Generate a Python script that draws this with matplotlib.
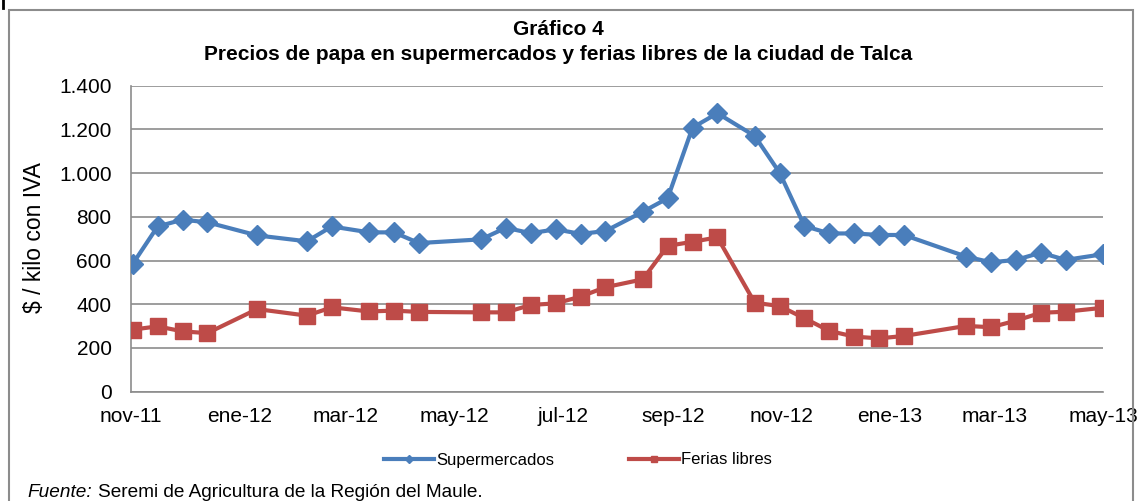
import numpy as np
import matplotlib
matplotlib.use("Agg")
import matplotlib.pyplot as plt
from matplotlib.patches import Rectangle
from matplotlib.lines import Line2D
import datetime as dt

plt.rcParams['font.family'] = ['Liberation Sans', 'DejaVu Sans']

# fechas de muestreo (quincenal)
fechas = ["2011-11-02", "2011-11-16", "2011-11-30", "2011-12-14", "2012-01-11",
          "2012-02-08", "2012-02-22", "2012-03-14", "2012-03-28", "2012-04-11",
          "2012-05-16", "2012-05-30", "2012-06-13", "2012-06-27", "2012-07-11",
          "2012-07-25", "2012-08-15", "2012-08-29", "2012-09-12", "2012-09-26",
          "2012-10-17", "2012-10-31", "2012-11-14", "2012-11-28", "2012-12-12",
          "2012-12-26", "2013-01-09", "2013-02-13", "2013-02-27", "2013-03-13",
          "2013-03-27", "2013-04-10", "2013-05-01"]

supermercados = [585, 756, 787, 775, 715, 688, 756, 729, 729, 680,
                 697, 750, 725, 743, 722, 735, 823, 885, 1208, 1274,
                 1170, 1002, 758, 724, 724, 717, 717, 618, 592, 603,
                 636, 603, 629]

ferias = [284, 299, 276, 268, 378, 348, 386, 367, 371, 365,
          363, 363, 397, 404, 435, 478, 514, 667, 686, 706,
          407, 392, 336, 278, 252, 244, 255, 301, 295, 325,
          361, 366, 384]

tick_fechas = ["2011-11-01", "2012-01-01", "2012-03-01", "2012-05-01", "2012-07-01",
               "2012-09-01", "2012-11-01", "2013-01-01", "2013-03-01", "2013-05-01"]
tick_labels = ["nov-11", "ene-12", "mar-12", "may-12", "jul-12",
               "sep-12", "nov-12", "ene-13", "mar-13", "may-13"]

y_ticks = [0, 200, 400, 600, 800, 1000, 1200, 1400]

x = [dt.datetime.strptime(f, "%Y-%m-%d") for f in fechas]
xt = [dt.datetime.strptime(f, "%Y-%m-%d") for f in tick_fechas]

fig = plt.figure(figsize=(11.38, 5.01), dpi=100)
ax = fig.add_axes([131/1138, 1 - 391.7/501, (1103-131)/1138, 306/501])

azul = '#4A7EBB'
rojo = '#BE4B48'
ax.plot(x, supermercados, color=azul, lw=3, marker='D', ms=10, zorder=3,
        label='Supermercados')
ax.plot(x, ferias, color=rojo, lw=3, marker='s', ms=11, zorder=3,
        label='Ferias libres')

ax.set_xlim(xt[0], xt[-1])
ax.set_ylim(0, 1400)
ax.set_xticks(xt)
ax.set_xticklabels(tick_labels, fontsize=15)
ax.set_yticks(y_ticks)
ax.set_yticklabels([f"{v:,}".replace(",", ".") for v in y_ticks], fontsize=15)
ax.tick_params(axis='both', length=0)
ax.tick_params(axis='y', pad=14)
ax.tick_params(axis='x', pad=11)

ax.grid(axis='y', color='#8C8C8C', lw=1.2)
ax.set_axisbelow(True)
for s in ['top', 'right']:
    ax.spines[s].set_visible(False)
for s in ['left', 'bottom']:
    ax.spines[s].set_color('#8C8C8C')
    ax.spines[s].set_linewidth(1.2)

fig.text(35/1138, 1 - 238/501, "$ / kilo con IVA", rotation=90, fontsize=16.5,
         ha='center', va='center')

fig.text(558/1138, 1 - 35/501, "Gráfico 4", fontsize=15, fontweight='bold',
         ha='center', va='baseline')
fig.text(558/1138, 1 - 60/501,
         "Precios de papa en supermercados y ferias libres de la ciudad de Talca",
         fontsize=15, fontweight='bold', ha='center', va='baseline')

leg = fig.legend(loc='center', bbox_to_anchor=(578/1138, 1 - 460/501), ncol=2,
                 frameon=False, fontsize=12, markerscale=0.4, handlelength=3.0,
                 handletextpad=0.1, columnspacing=4.5)

fig.text(27/1138, 1 - 497/501, "Fuente:", fontsize=13.7, style='italic',
         ha='left', va='baseline')
fig.text(98/1138, 1 - 497/501, "Seremi de Agricultura de la Región del Maule.",
         fontsize=13.7, ha='left', va='baseline')

# marco exterior
fig.patches.append(Rectangle((9/1138, -0.02), (1133-9)/1138, 1.02 - 10/501,
                             transform=fig.transFigure, fill=False,
                             edgecolor='#8C8C8C', lw=1.5))
fig.lines.append(Line2D([3/1138, 3/1138], [1, 1 - 8/501], transform=fig.transFigure,
                        color='black', lw=2))

fig.savefig("out.png", dpi=100)
